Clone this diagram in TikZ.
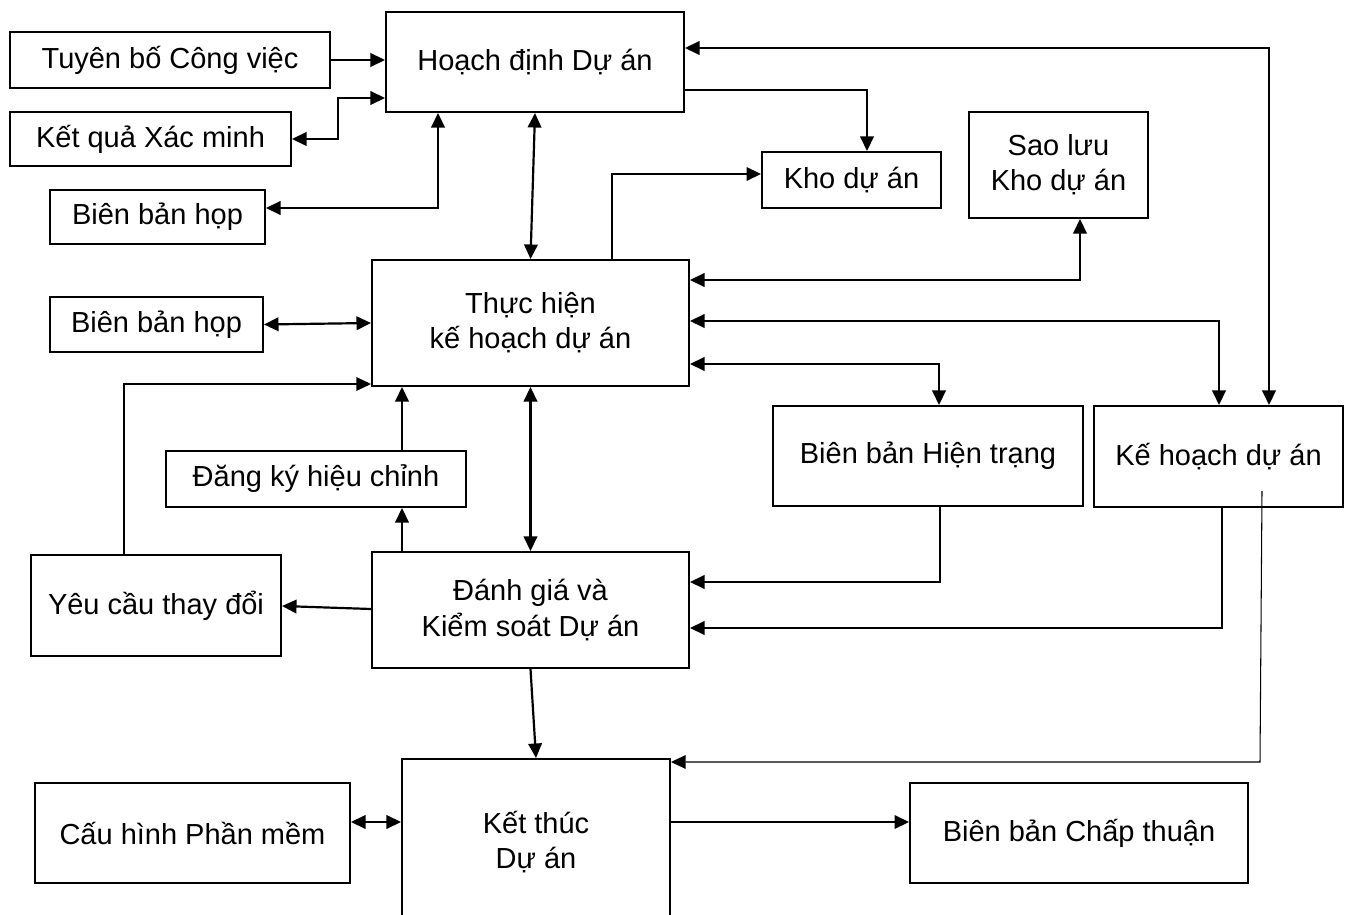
\documentclass[tikz,border=0pt]{standalone}
\usepackage{fontspec}
\setmainfont{Liberation Sans}
\usepackage{tikz}
\usetikzlibrary{arrows.meta}
\tikzset{
  box/.style={draw=black, line width=1.15pt, rectangle, inner sep=0pt, align=center,
    font=\fontsize{16.5}{20}\selectfont},
  sz/.style 2 args={minimum width=#1*0.02cm, minimum height=#2*0.02cm},
  link/.style={draw=black, line width=1.25pt, line join=miter},
  thin/.style={draw=black, line width=0.6pt},
  >={Triangle[length=2.9mm,width=2.7mm]},
}
\begin{document}
\begin{tikzpicture}[x=0.02cm, y=-0.02cm]
  \clip (0,0) rectangle (1346,915);
  % left column
  \node[box, sz={320}{56}]  (tuyen)   at (170,60)    {Tuyên bố Công việc};
  \node[box, sz={281}{54}]  (ketqua)  at (150.5,139) {Kết quả Xác minh};
  \node[box, sz={215}{54}]  (bbhop)   at (157.5,217) {Biên bản họp};
  \node[box, sz={213}{55}]  (bbhopb)  at (156.5,324.5) {Biên bản họp};
  \node[box, sz={300}{56}]  (dangky)  at (316,479)   {Đăng ký hiệu chỉnh};
  \node[box, sz={250}{101}] (yeucau)  at (156,605.5) {Yêu cầu thay đổi};
  \node[box, sz={315}{100}] (cauhinh) at (192.5,833) {Cấu hình Phần mềm};
  % main column
  \node[box, sz={298}{100}] (hoachdinh) at (535,62)    {Hoạch định Dự án};
  \node[box, sz={317}{126}] (thuchien)  at (530.5,323) {Thực hiện\\kế hoạch dự án};
  \node[box, sz={317}{116}] (danhgia)   at (530.5,610) {Đánh giá và\\Kiểm soát Dự án};
  \node[box, sz={268}{166}] (ketthuc)   at (536,842)   {Kết thúc\\Dự án};
  % right side
  \node[box, sz={179}{56}]  (kho)       at (851.5,180)  {Kho dự án};
  \node[box, sz={179}{106}] (saoluu)    at (1058.5,165) {Sao lưu\\Kho dự án};
  \node[box, sz={310}{100}] (hientrang) at (928,456)    {Biên bản Hiện trạng};
  \node[box, sz={249}{101}] (kehoach)   at (1218.5,456.5) {Kế hoạch dự án};
  \node[box, sz={338}{100}] (chapthuan) at (1079,833)   {Biên bản Chấp thuận};

  % into planning
  \draw[link,->] (tuyen.east) -- (hoachdinh.west |- tuyen.east);
  \draw[link,<->] (ketqua.east) -- (338,139) -- (338,98) -- (hoachdinh.west |- 0,98);
  \draw[link,<->] (bbhop.east |- 0,208) -- (438,208) -- (hoachdinh.south -| 438,0);
  \draw[link,<->] (hoachdinh.south) -- (thuchien.north);
  \draw[link,<->] (hoachdinh.east |- 0,48) -| (kehoach.north -| 1269,0);
  \draw[link,->] (hoachdinh.east |- 0,90) -| (kho.north -| 867,0);

  % execution
  \draw[link,->] (thuchien.north -| 612,0) |- (kho.west |- 0,174);
  \draw[link,<->] (thuchien.east |- 0,280) -| (saoluu.south -| 1080,0);
  \draw[link,<->] (thuchien.east |- 0,321) -| (kehoach.north -| 1219,0);
  \draw[link,<->] (thuchien.east |- 0,364) -| (hientrang.north -| 939,0);
  \draw[link,<->] (bbhopb.east) -- (thuchien.west |- 0,323);
  \draw[thin,->] (yeucau.north -| 124,0) |- (thuchien.west |- 0,384);
  \draw[link,->] (dangky.north -| 402,0) -- (thuchien.south -| 402,0);
  \draw[link,->] (danhgia.north -| 402,0) -- (dangky.south -| 402,0);
  \draw[link,<->] (thuchien.south) -- (danhgia.north);

  % control
  \draw[link,->] (danhgia.west |- 0,609) -- (yeucau.east |- 0,606);
  \draw[link,->] (hientrang.south -| 940,0) |- (danhgia.east |- 0,582);
  \draw[link,->] (kehoach.south -| 1222,0) |- (danhgia.east |- 0,628);
  \draw[thin,->] (kehoach.south -| 1262,0) ++(0,-17) -- (1260,762) -- (ketthuc.east |- 0,762);
  \draw[link,->] (danhgia.south) -- (ketthuc.north);

  % closing
  \draw[link,<->] (cauhinh.east |- 0,822) -- (ketthuc.west |- 0,822);
  \draw[link,->] (ketthuc.east |- 0,822) -- (chapthuan.west |- 0,822);
\end{tikzpicture}
\end{document}
